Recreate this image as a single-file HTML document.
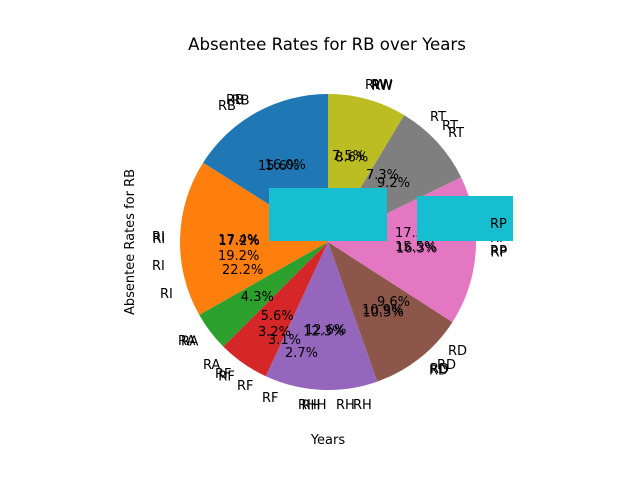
<!DOCTYPE html>
<html><head><meta charset="utf-8"><style>
body{margin:0;background:#fff}
svg text{font-family:"DejaVu Sans","Liberation Sans",sans-serif;fill:#000}
</style></head><body>
<svg id="chart" width="640" height="480" viewBox="0 0 640 480">
<rect width="640" height="480" fill="#fff"/>
<text x="327" y="50" text-anchor="middle" font-size="16.6">Absentee Rates for RB over Years</text>
<text x="0" y="0" transform="translate(134,242) rotate(-90)" text-anchor="middle" font-size="13">Absentee Rates for RB</text>
<text x="328" y="444" text-anchor="middle" font-size="13">Years</text>
<g id="slices"></g>
<g id="labels" font-size="13"></g>
<g id="extra" font-size="13">
<text x="218" y="110">RB</text>
<text x="226" y="104">RB</text>
<text x="365" y="89">RW</text>
<text x="371" y="89">RW</text>
<text x="430" y="121">RT</text>
<text x="442" y="130">RT</text>
<text x="490" y="228">RP</text>
<text x="490" y="242">RP</text>
<text x="490" y="255">RP</text>
<text x="152" y="241">RI</text>
<text x="152" y="270">RI</text>
<text x="160" y="298">RI</text>
<text x="178" y="345">RA</text>
<text x="203" y="369">RA</text>
<text x="215" y="378">RF</text>
<text x="237" y="390">RF</text>
<text x="262" y="402">RF</text>
<text x="298" y="409">RHH</text>
<text x="336" y="409">RH</text>
<text x="353" y="409">RH</text>
<text x="448" y="355">RD</text>
<text x="437" y="369">RD</text>
<text x="430" y="373">RD</text>
<text x="218" y="244">17.4%</text>
<text x="218" y="260">19.2%</text>
<text x="222" y="274">22.2%</text>
<text x="258" y="170">15.6%</text>
<text x="332" y="160">7.5%</text>
<text x="366" y="179">7.3%</text>
<text x="395" y="237">17.3%</text>
<text x="395" y="251">15.5%</text>
<text x="377" y="306">9.6%</text>
<text x="362" y="314">10.9%</text>
<text x="258" y="336">3.2%</text>
<text x="268" y="344">3.1%</text>
<text x="285" y="357">2.7%</text>
<text x="305" y="334">12.6%</text>
</g>
<rect x="269" y="188" width="118" height="53" fill="#17becf"/>
<rect x="417" y="196" width="96" height="45" fill="#17becf"/>
<text x="490" y="228" font-size="13">RP</text>
</svg>
<script>
const categories=["RB","RI","RA","RF","RH","RD","RP","RT","RW"];
const values=[16,17.2,4.3,5.6,12.3,10.5,16.3,9.2,8.6];
const colors=["#1f77b4","#ff7f0e","#2ca02c","#d62728","#9467bd","#8c564b","#e377c2","#7f7f7f","#bcbd22"];
const cx=328,cy=242,r=148;
const ns="http://www.w3.org/2000/svg";
const total=values.reduce((a,b)=>a+b,0);
function pt(deg,rad){const a=deg*Math.PI/180;return [cx+rad*Math.cos(a),cy-rad*Math.sin(a)];}
let start=90;
const gs=document.getElementById('slices'),gl=document.getElementById('labels');
values.forEach((v,i)=>{
  const sweep=v/total*360,end=start+sweep;
  const [x1,y1]=pt(start,r),[x2,y2]=pt(end,r);
  const p=document.createElementNS(ns,'path');
  p.setAttribute('d',`M${cx},${cy} L${x1},${y1} A${r},${r} 0 ${sweep>180?1:0} 0 ${x2},${y2} Z`);
  p.setAttribute('fill',colors[i]);
  
  
  gs.appendChild(p);
  const mid=(start+end)/2;
  const [lx,ly]=pt(mid,r*1.1);
  const t=document.createElementNS(ns,'text');
  t.setAttribute('x',lx);t.setAttribute('y',ly+5);
  t.setAttribute('text-anchor',Math.cos(mid*Math.PI/180)>=0?'start':'end');
  t.textContent=categories[i];
  
  
  gl.appendChild(t);
  const [px,py]=pt(mid,r*0.6);
  const q=document.createElementNS(ns,'text');
  q.setAttribute('x',px);q.setAttribute('y',py+5);
  q.setAttribute('text-anchor','middle');
  q.textContent=(v/total*100).toFixed(1)+'%';
  
  
  gl.appendChild(q);
  start=end;
});
</script>
</body></html>
